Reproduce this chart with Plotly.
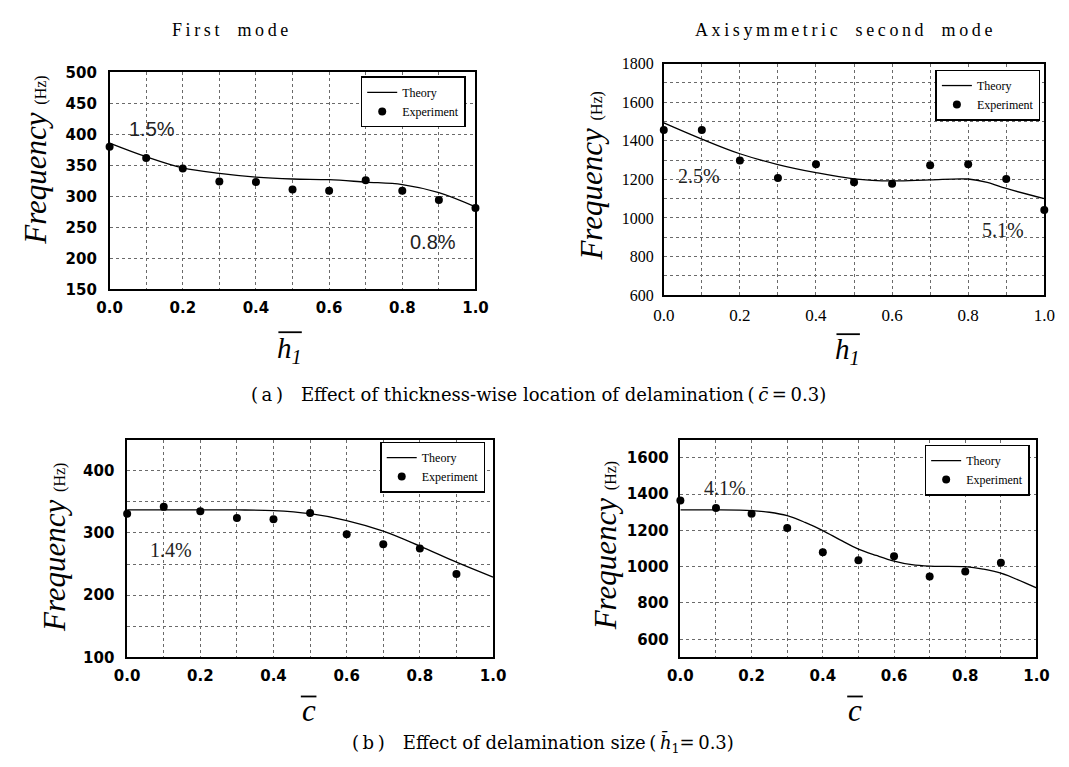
import plotly.graph_objects as go

W, H = 1069, 767

# ---------------- data ----------------
x_exp = [0.0, 0.1, 0.2, 0.3, 0.4, 0.5, 0.6, 0.7, 0.8, 0.9, 1.0]
x_exp_c = [0.0, 0.1, 0.2, 0.3, 0.4, 0.5, 0.6, 0.7, 0.8, 0.9]

# (a) first mode vs h1
a1_exp = [380, 362, 345, 324, 323, 311, 309, 326, 309, 294, 281]
a1_th_x = [0.0, 0.1, 0.2, 0.3, 0.4, 0.5, 0.6, 0.7, 0.8, 0.9, 1.0]
a1_th = [386, 364, 346, 337, 331, 328, 327, 323, 319, 306, 283]

# (a) axisymmetric second mode vs h1
a2_exp = [1456, 1456, 1298, 1207, 1279, 1185, 1178, 1274, 1279, 1202, 1042]
a2_th_x = [0.0, 0.1, 0.2, 0.3, 0.4, 0.5, 0.6, 0.7, 0.8, 0.85, 0.9, 1.0]
a2_th = [1493, 1409, 1333, 1277, 1235, 1203, 1192, 1198, 1202, 1185, 1153, 1100]

# (b) first mode vs c
b1_exp = [331, 342, 335, 324, 322, 332, 298, 282, 275, 234]
b1_th_x = [0.0, 0.1, 0.2, 0.3, 0.4, 0.5, 0.6, 0.7, 0.8, 0.9, 1.0]
b1_th = [337, 337, 337, 337, 336, 331, 320, 303, 279, 253, 229]

# (b) axisymmetric second mode vs c
b2_exp = [1365, 1324, 1292, 1213, 1080, 1035, 1058, 946, 973, 1021]
b2_th_x = [0.0, 0.1, 0.2, 0.25, 0.3, 0.35, 0.4, 0.45, 0.5, 0.55, 0.6, 0.65, 0.7, 0.8, 0.85, 0.9, 1.0]
b2_th = [1313, 1313, 1309, 1300, 1281, 1244, 1199, 1146, 1097, 1062, 1031, 1011, 1003, 1000, 987, 964, 883]

x_ticks = [0.0, 0.2, 0.4, 0.6, 0.8, 1.0]

# ---------------- layout helpers ----------------
def px_x(p):
    return p / W

def px_y(p):
    return 1 - p / H

panels = {
    1: dict(x=(99, 474), y=(65, 287)),
    2: dict(x=(667, 1057), y=(56, 293)),
    3: dict(x=(117, 492), y=(441, 664)),
    4: dict(x=(684, 1049), y=(441, 664)),
}

SERIF = "Liberation Serif"
SANS = "DejaVu Sans"

fig = go.Figure()

line_style = dict(color="black", width=1.3, shape="spline", smoothing=1.0)
mark_style = dict(color="black", size=8)

series = [
    (1, x_exp, a1_exp, a1_th_x, a1_th),
    (2, x_exp, a2_exp, a2_th_x, a2_th),
    (3, x_exp_c, b1_exp, b1_th_x, b1_th),
    (4, x_exp_c, b2_exp, b2_th_x, b2_th),
]

for i, xe, ye, xt, yt in series:
    ax = "" if i == 1 else str(i)
    lg = "legend" if i == 1 else f"legend{i}"
    fig.add_trace(go.Scatter(x=xt, y=yt, mode="lines", name="Theory",
                             line=line_style, xaxis="x" + ax, yaxis="y" + ax,
                             legend=lg, cliponaxis=False))
    fig.add_trace(go.Scatter(x=xe, y=ye, mode="markers", name="Experiment",
                             marker=mark_style, xaxis="x" + ax, yaxis="y" + ax,
                             legend=lg, cliponaxis=False))

grid_col = "#6a6a6a"

def xaxis_cfg(i, font, tl):
    p = panels[i]
    return dict(domain=[px_x(p["x"][0]), px_x(p["x"][1])], range=[0, 1],
                anchor="y" if i == 1 else f"y{i}",
                tickvals=x_ticks, tickformat=".1f",
                showline=True, linecolor="black", linewidth=1.5, mirror=True,
                showgrid=True, gridcolor=grid_col, griddash="dot", gridwidth=1,
                minor=dict(dtick=0.1, showgrid=True, gridcolor=grid_col, griddash="dot", gridwidth=1),
                ticks="outside", ticklen=tl, tickcolor="rgba(0,0,0,0)",
                tickfont=font, zeroline=False)

def yaxis_cfg(i, rng, dtick, minor, font, tl):
    p = panels[i]
    d = dict(domain=[px_y(p["y"][1]), px_y(p["y"][0])], range=rng,
             anchor="x" if i == 1 else f"x{i}",
             dtick=dtick, tick0=0,
             showline=True, linecolor="black", linewidth=1.5, mirror=True,
             showgrid=True, gridcolor=grid_col, griddash="dot", gridwidth=1,
             ticks="outside", ticklen=tl, tickcolor="rgba(0,0,0,0)",
             tickfont=font, zeroline=False)
    if minor:
        d["minor"] = dict(dtick=minor, showgrid=True, gridcolor=grid_col, griddash="dot", gridwidth=1)
    return d

sans_tick = dict(family=SANS, size=15, color="black", weight="bold")
serif_tick_y = dict(family=SERIF, size=16, color="black")
serif_tick_x = dict(family=SERIF, size=17, color="black")

fig.update_layout(
    xaxis=xaxis_cfg(1, sans_tick, 4),
    yaxis=yaxis_cfg(1, [150, 500], 50, None, sans_tick, 8),
    xaxis2=xaxis_cfg(2, serif_tick_x, 4),
    yaxis2=yaxis_cfg(2, [600, 1800], 200, 100, serif_tick_y, 5),
    xaxis3=xaxis_cfg(3, sans_tick, 4),
    yaxis3=yaxis_cfg(3, [100, 450], 100, 50, sans_tick, 8),
    xaxis4=xaxis_cfg(4, sans_tick, 4),
    yaxis4=yaxis_cfg(4, [500, 1700], 200, None, sans_tick, 7),
)

legend_pos = {1: (464, 69), 2: (1053, 62), 3: (484, 443), 4: (1042, 446)}
for i, (lx, ly) in legend_pos.items():
    key = "legend" if i == 1 else f"legend{i}"
    fig.update_layout({key: dict(x=px_x(lx), y=px_y(ly), xanchor="right", yanchor="top",
                                 bgcolor="white", bordercolor="black", borderwidth=1.5,
                                 font=dict(family=SERIF, size=12, color="black"),
                                 itemwidth=30, tracegroupgap=0)})

ann = []

def add_text(x, y, text, size, family=SERIF, angle=0, color="black", xanchor="center"):
    ann.append(dict(x=px_x(x), y=px_y(y), xref="paper", yref="paper", text=text,
                    showarrow=False, textangle=angle, xanchor=xanchor, yanchor="middle",
                    font=dict(family=family, size=size, color=color)))

def spaced(s):
    return "\u2003".join("\u2009".join(w) for w in s.split(" "))

# titles
add_text(222, 22, spaced("First mode"), 18)
add_text(851, 22, spaced("Axisymmetric second mode"), 18)

# y titles
ytitle = "<i>Frequency</i> <span style='font-size:16px'>(Hz)</span>"
add_text(23, 155, ytitle, 31, angle=-90)
add_text(593, 171, ytitle, 31, angle=-90)
add_text(42, 551, ytitle, 31, angle=-90)
add_text(607, 550, ytitle, 31, angle=-90)

# x titles
add_text(283, 349, "<i>h</i><sub><i>1</i></sub>", 29)
add_text(855, 350, "<i>h</i><sub><i>1</i></sub>", 29)
add_text(303, 718, "<i>c</i>", 31)
add_text(863, 718, "<i>c</i>", 31)

# captions
CAP = "DejaVu Serif"
add_text(242, 395, "(\u2009a\u2009)\u2003Effect of thickness-wise location of delamination\u2009(\u2009<i>c\u0304</i>\u2009=\u20090.3)", 18, family=CAP, xanchor="left")
add_text(345, 752, "(\u2009b\u2009)\u2003Effect of delamination size\u2009(\u2009<i>h\u0304</i><sub>1</sub>=\u20090.3)", 18, family=CAP, xanchor="left")

fig.update_layout(annotations=ann)

# percentage annotations in data coordinates
pct = [
    ("x", "y", 0.117, 409, "1.5%", "Liberation Sans"),
    ("x", "y", 0.883, 227, "0.8%", "Liberation Sans"),
    ("x2", "y2", 0.092, 1218, "2.5%", SERIF),
    ("x2", "y2", 0.892, 939, "5.1%", SERIF),
    ("x3", "y3", 0.12, 273, "1.4%", SERIF),
    ("x4", "y4", 0.126, 1436, "4.1%", SERIF),
]
for xr, yr, xv, yv, t, fam in pct:
    fig.add_annotation(x=xv, y=yv, xref=xr, yref=yr, text=t, showarrow=False,
                       font=dict(family=fam, size=20, color="#222222"))

# overlines for axis-title symbols
for (x0, x1, y) in [(272, 296, 331), (844, 868, 333), (295, 311, 704), (855, 871, 704)]:
    fig.add_shape(type="line", xref="paper", yref="paper",
                  x0=px_x(x0), x1=px_x(x1), y0=px_y(y), y1=px_y(y),
                  line=dict(color="black", width=1.8))

fig.update_layout(width=W, height=H, margin=dict(l=0, r=0, t=0, b=0),
                  paper_bgcolor="white", plot_bgcolor="white", showlegend=True)

fig.write_html("out.html")
